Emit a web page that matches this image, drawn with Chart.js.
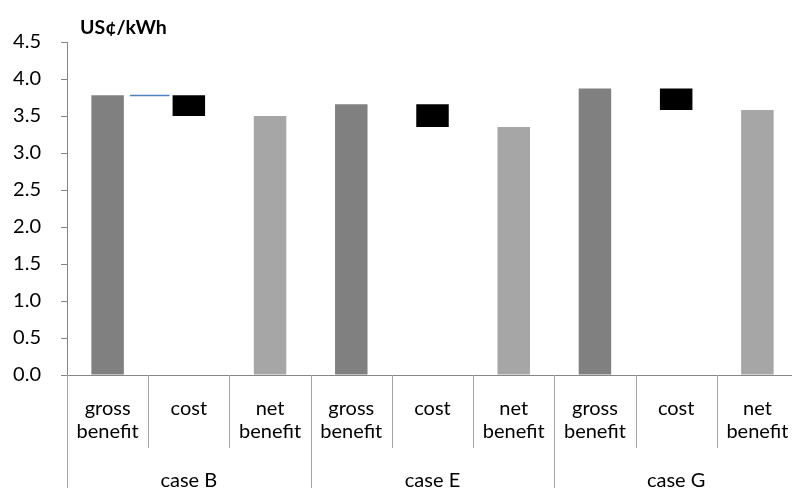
<!DOCTYPE html>
<html>
<head>
<meta charset="utf-8">
<script src="https://cdn.jsdelivr.net/npm/chart.js@4/dist/chart.umd.min.js"></script>
<style>
  html, body { margin: 0; padding: 0; background: #fff; overflow: hidden; }
  #wrap { position: relative; width: 800px; height: 488px; }
</style>
</head>
<body>
<div id="wrap"><canvas id="chart" width="800" height="488"></canvas></div>
<script>
// Cases and the three steps shown for each case
const cases = ['case B', 'case E', 'case G'];
const steps = [['gross', 'benefit'], ['cost'], ['net', 'benefit']];

// US¢/kWh
const grossBenefit = [3.78, 3.66, 3.87];
const netBenefit   = [3.50, 3.35, 3.58];
const yTicks = [0, 0.5, 1, 1.5, 2, 2.5, 3, 3.5, 4, 4.5];

const unitLabel = 'US¢/kWh';
const FONT = 'Lato';
const TXT = 20;

// one category slot per step of every case
const labels = [];
cases.forEach(c => steps.forEach(s => labels.push(s)));

const grossData = [], costData = [], netData = [];
cases.forEach((c, i) => {
  grossData.push(grossBenefit[i], null, null);
  costData.push(null, [netBenefit[i], grossBenefit[i]], null);
  netData.push(null, null, netBenefit[i]);
});

// Category labels, dividers, case names, unit label and the first connector
const axisDecor = {
  id: 'axisDecor',
  afterDraw(chart) {
    const ctx = chart.ctx;
    const x = chart.scales.x, y = chart.scales.y;
    const area = chart.chartArea;
    const n = labels.length;
    const slot = (area.right - area.left) / n;
    ctx.save();

    // dividers below the axis
    ctx.strokeStyle = '#a6a6a6';
    ctx.lineWidth = 1;
    for (let k = 0; k <= n; k++) {
      const px = Math.round(area.left + k * slot) + 0.5;
      const long = k % steps.length === 0;
      ctx.beginPath();
      ctx.moveTo(px, area.bottom);
      ctx.lineTo(px, long ? chart.height : area.bottom + 73);
      ctx.stroke();
    }

    // step labels
    ctx.fillStyle = '#000';
    ctx.font = TXT + 'px ' + FONT;
    ctx.textAlign = 'center';
    ctx.textBaseline = 'alphabetic';
    labels.forEach((lab, k) => {
      const cx = x.getPixelForValue(k);
      lab.forEach((line, j) => ctx.fillText(line, cx, area.bottom + 40 + j * 23));
    });

    // case names
    cases.forEach((c, i) => {
      const cx = x.getPixelForValue(i * steps.length + 1);
      ctx.fillText(c, cx, area.bottom + 112);
    });

    // unit label
    ctx.font = 'bold 19.5px ' + FONT;
    ctx.textAlign = 'left';
    ctx.fillText(unitLabel, 80, 34);

    // connector from the first gross benefit bar toward its cost bar
    const g = chart.getDatasetMeta(0).data[0];
    const cst = chart.getDatasetMeta(1).data[1];
    const ly = Math.round(y.getPixelForValue(grossBenefit[0])) + 0.5;
    ctx.strokeStyle = '#4f81bd';
    ctx.lineWidth = 1.5;
    ctx.beginPath();
    ctx.moveTo(g.x + g.width / 2 + 6, ly);
    ctx.lineTo(cst.x - cst.width / 2 - 3, ly);
    ctx.stroke();
    ctx.restore();
  }
};

new Chart(document.getElementById('chart'), {
  type: 'bar',
  data: {
    labels: labels,
    datasets: [
      { label: 'gross benefit', data: grossData, backgroundColor: '#808080' },
      { label: 'cost', data: costData, backgroundColor: '#000000' },
      { label: 'net benefit', data: netData, backgroundColor: '#a6a6a6' }
    ]
  },
  options: {
    responsive: false,
    devicePixelRatio: 1,
    animation: false,
    layout: { padding: { top: 42, right: 2, left: 0, bottom: 0 } },
    plugins: { legend: { display: false }, tooltip: { enabled: false } },
    datasets: { bar: { grouped: false, categoryPercentage: 1, barPercentage: 0.4 } },
    scales: {
      x: {
        offset: true,
        grid: { display: false },
        border: { color: '#868686', width: 1 },
        ticks: { display: false },
        afterFit: s => { s.height = 113; }
      },
      y: {
        min: 0, max: 4.5,
        afterBuildTicks: s => { s.ticks = yTicks.map(v => ({ value: v })); },
        ticks: {
          color: '#000',
          font: { family: FONT, size: TXT },
          padding: 20,
          callback: v => v.toFixed(1)
        },
        grid: { drawOnChartArea: false, tickLength: 6, color: '#868686' },
        border: { color: '#868686', width: 1 },
        afterFit: s => { s.width = 67; }
      }
    }
  },
  plugins: [axisDecor]
});
</script>
</body>
</html>
